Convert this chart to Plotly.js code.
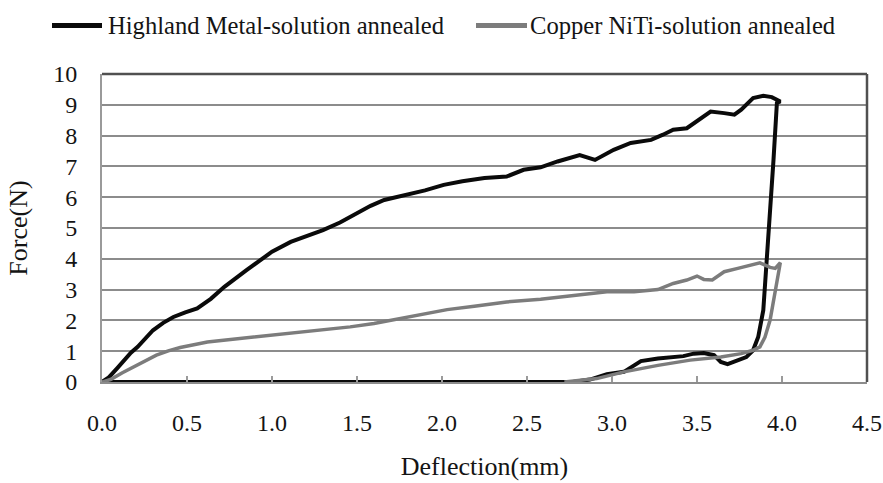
<!DOCTYPE html>
<html>
<head>
<meta charset="utf-8">
<script src="https://cdn.plot.ly/plotly-3.0.1.min.js"></script>
<style>
  html, body { margin: 0; padding: 0; background: #ffffff; }
  #chart { width: 883px; height: 483px; }
</style>
</head>
<body>
<div id="chart"></div>
<script>
// Load–unload curves: force against deflection for two archwire types.
const highlandName = 'Highland Metal-solution annealed';
const copperName = 'Copper NiTi-solution annealed';

// Highland Metal: loading to 4.0 mm, then unloading back to zero force.
const highlandDeflection = [
  0.00, 0.04, 0.09, 0.13, 0.17, 0.21, 0.25, 0.30, 0.36, 0.42, 0.49, 0.56,
  0.64, 0.72, 0.85, 1.00, 1.11, 1.20, 1.30, 1.40, 1.50, 1.58, 1.66, 1.79,
  1.90, 2.01, 2.12, 2.25, 2.38, 2.48, 2.58, 2.68, 2.81, 2.90, 3.01, 3.11,
  3.23, 3.30, 3.36, 3.44, 3.50, 3.58, 3.66, 3.72, 3.76, 3.83, 3.89, 3.94,
  3.99,
  3.97, 3.95, 3.93, 3.91, 3.89, 3.86, 3.83, 3.79, 3.74, 3.68, 3.64, 3.60,
  3.54, 3.48, 3.42, 3.36, 3.27, 3.17, 3.13, 3.07, 2.97, 2.91, 2.87, 2.77,
  0.00
];
const highlandForce = [
  0.00, 0.15, 0.45, 0.71, 0.95, 1.14, 1.40, 1.68, 1.92, 2.11, 2.26, 2.39,
  2.70, 3.09, 3.63, 4.23, 4.55, 4.72, 4.93, 5.18, 5.48, 5.72, 5.91, 6.07,
  6.22, 6.40, 6.52, 6.62, 6.67, 6.89, 6.97, 7.16, 7.37, 7.21, 7.54, 7.76,
  7.86, 8.03, 8.19, 8.24, 8.46, 8.78, 8.73, 8.68, 8.84, 9.22, 9.29, 9.25,
  9.11,
  9.06, 7.21, 5.59, 3.96, 2.33, 1.46, 1.03, 0.81, 0.71, 0.58, 0.65, 0.87,
  0.94, 0.92, 0.84, 0.81, 0.76, 0.68, 0.54, 0.33, 0.25, 0.16, 0.08, 0.00,
  0.00
];

// Copper NiTi: loading to 4.0 mm, then unloading.
const copperDeflection = [
  0.00, 0.05, 0.12, 0.19, 0.26, 0.32, 0.39, 0.46, 0.62, 0.81, 1.01, 1.21,
  1.46, 1.60, 1.79, 2.03, 2.19, 2.38, 2.58, 2.77, 2.97, 3.13, 3.27, 3.36,
  3.44, 3.50, 3.54, 3.59, 3.66, 3.74, 3.81, 3.87, 3.93, 3.96, 3.99,
  3.96, 3.93, 3.90, 3.87, 3.83, 3.76, 3.64, 3.46, 3.27, 3.07, 2.91, 2.72
];
const copperForce = [
  0.00, 0.08, 0.30, 0.49, 0.70, 0.87, 1.01, 1.12, 1.30, 1.41, 1.52, 1.66,
  1.79, 1.90, 2.11, 2.35, 2.46, 2.60, 2.69, 2.82, 2.93, 2.93, 3.00, 3.20,
  3.31, 3.44, 3.33, 3.31, 3.58, 3.69, 3.80, 3.87, 3.72, 3.69, 3.87,
  2.88, 2.01, 1.46, 1.14, 1.03, 0.92, 0.81, 0.71, 0.54, 0.33, 0.11, 0.00
];

const xTickValues = [0, 0.5, 1, 1.5, 2, 2.5, 3, 3.5, 4, 4.5];
const yTickValues = [0, 1, 2, 3, 4, 5, 6, 7, 8, 9, 10];

const serif = "'Liberation Serif', 'Times New Roman', Times, serif";
const black = '#0a0a0a';
const gray = '#7c7c7c';
const ink = '#141414';

// plot area in pixels, used to place the hand-drawn legend
const W = 883, H = 483;
const m = { l: 102, r: 16, t: 74, b: 101 };
const pw = W - m.l - m.r, ph = H - m.t - m.b;
const px = v => (v - m.l) / pw;
const py = v => (H - m.b - v) / ph;

const traces = [
  {
    type: 'scatter', mode: 'lines', name: highlandName,
    x: highlandDeflection, y: highlandForce,
    line: { color: black, width: 4 },
    showlegend: false
  },
  {
    type: 'scatter', mode: 'lines', name: copperName,
    x: copperDeflection, y: copperForce,
    line: { color: gray, width: 3.5 },
    showlegend: false
  }
];

const legendY = py(25.5);

const layout = {
  width: W, height: H,
  margin: m,
  paper_bgcolor: '#ffffff',
  plot_bgcolor: '#ffffff',
  font: { family: serif, color: ink, size: 24 },
  showlegend: false,
  xaxis: {
    range: [0, 4.5],
    tickvals: xTickValues,
    tickformat: '.1f',
    ticks: 'inside', ticklen: 6, tickwidth: 2, tickcolor: '#9a9a9a',
    showline: true, linecolor: '#8c8c8c', linewidth: 2,
    showgrid: false, zeroline: false,
    ticklabelstandoff: 18,
    tickfont: { family: serif, size: 24, color: ink },
    title: { text: 'Deflection(mm)', font: { family: serif, size: 26, color: ink }, standoff: 22 }
  },
  yaxis: {
    range: [0, 10],
    tickvals: yTickValues,
    ticks: '',
    showline: true, linecolor: '#9a9a9a', linewidth: 2,
    showgrid: true, gridcolor: '#8c8c8c', gridwidth: 2,
    zeroline: false,
    ticklabelstandoff: 18,
    tickfont: { family: serif, size: 24, color: ink },
    title: { text: 'Force(N)', font: { family: serif, size: 26, color: ink }, standoff: 18 }
  },
  shapes: [
    // darker frame on top and right
    { type: 'line', xref: 'paper', yref: 'paper', x0: 0, x1: 1, y0: 1, y1: 1,
      line: { color: '#505050', width: 2.5 } },
    { type: 'line', xref: 'paper', yref: 'paper', x0: 1, x1: 1, y0: 0, y1: 1,
      line: { color: '#505050', width: 2.5 } },
    // legend line samples
    { type: 'line', xref: 'paper', yref: 'paper', x0: px(52), x1: px(102), y0: legendY, y1: legendY,
      line: { color: black, width: 5 } },
    { type: 'line', xref: 'paper', yref: 'paper', x0: px(476), x1: px(527), y0: legendY, y1: legendY,
      line: { color: gray, width: 5 } }
  ],
  annotations: [
    { xref: 'paper', yref: 'paper', x: px(106), y: legendY, xanchor: 'left', yanchor: 'middle',
      text: highlandName, showarrow: false, font: { family: serif, size: 24.6, color: ink } },
    { xref: 'paper', yref: 'paper', x: px(528), y: legendY, xanchor: 'left', yanchor: 'middle',
      text: copperName, showarrow: false, font: { family: serif, size: 24.6, color: ink } }
  ]
};

Plotly.newPlot('chart', traces, layout, { staticPlot: true, displayModeBar: false });
</script>
</body>
</html>
